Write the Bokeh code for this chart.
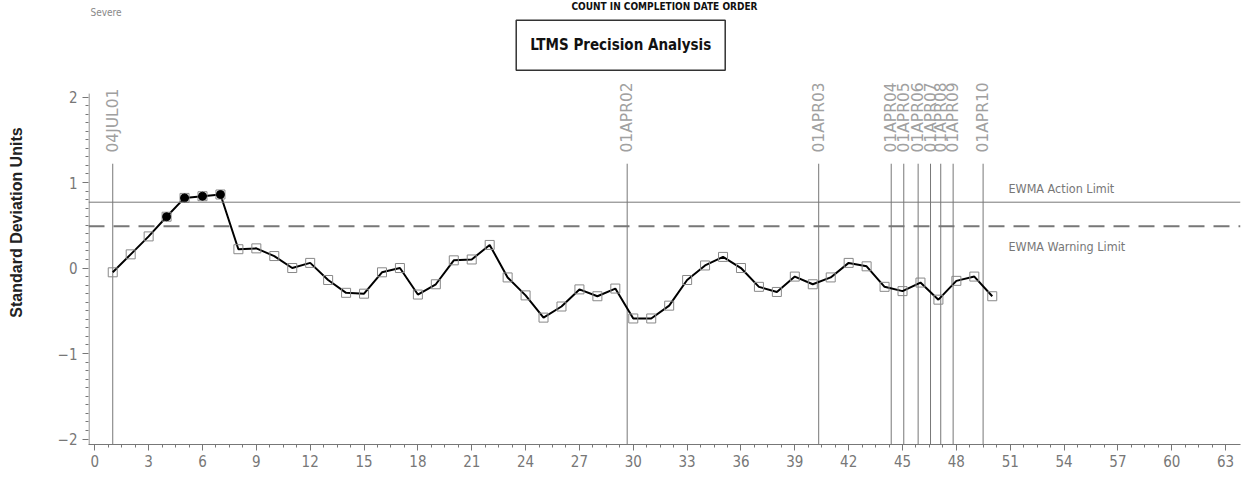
import math
from bokeh.plotting import figure
from bokeh.models import Range1d, FixedTicker, Span, Label, LabelSet, ColumnDataSource, Title
from bokeh.core.properties import value
from bokeh.embed import file_html
from bokeh.resources import INLINE

# ---------------- data ----------------
seq = list(range(1, 51))
ewma = [-0.05, 0.16, 0.37, 0.60, 0.82, 0.84, 0.86, 0.22, 0.23, 0.14,
        0.00, 0.06, -0.14, -0.29, -0.30, -0.05, 0.00, -0.31, -0.19, 0.09,
        0.10, 0.27, -0.11, -0.32, -0.58, -0.45, -0.25, -0.33, -0.24, -0.59,
        -0.59, -0.44, -0.14, 0.03, 0.13, 0.00, -0.22, -0.28, -0.10, -0.19,
        -0.11, 0.06, 0.02, -0.22, -0.27, -0.17, -0.37, -0.15, -0.10, -0.33]
action_limit = 0.77
warning_limit = 0.49
event_x = [1.0, 29.66, 40.33, 44.37, 45.07, 45.87, 46.56, 47.13, 47.82, 49.49]
event_labels = ["04JUL01", "01APR02", "01APR03", "01APR04", "01APR05",
                "01APR06", "01APR07", "01APR08", "01APR09", "01APR10"]
x_ticks = list(range(0, 64, 3))
y_ticks = [-2, -1, 0, 1, 2]

# ---------------- styling constants ----------------
GREY = "#777777"
COND = "DejaVu Sans Condensed"
X_LO, X_HI = -0.351, 63.83
Y_LO, Y_HI = -2.064, 3.129
Y_AXIS_TOP = 2.04

p = figure(width=1250, height=487, output_backend="svg", toolbar_location=None,
           x_range=Range1d(X_LO, X_HI), y_range=Range1d(Y_LO, Y_HI),
           min_border_left=88, min_border_right=10, min_border_top=0, min_border_bottom=43)
p.background_fill_color = "white"
p.border_fill_color = "white"
p.outline_line_color = None
p.xgrid.visible = False
p.ygrid.visible = False

# axes
x_minor = [t + k * 0.75 for t in x_ticks[:-1] for k in (1, 2, 3)]
y_minor = [round(a + k * 0.1, 2) for a in y_ticks[:-1] for k in range(1, 10)]
p.xaxis.ticker = FixedTicker(ticks=x_ticks, minor_ticks=x_minor)
p.yaxis.ticker = FixedTicker(ticks=y_ticks, minor_ticks=y_minor)
for ax in (p.xaxis, p.yaxis):
    ax.axis_line_color = GREY
    ax.major_tick_line_color = GREY
    ax.minor_tick_line_color = GREY
    ax.major_tick_in = 0
    ax.major_tick_out = 6
    ax.minor_tick_in = 0
    ax.minor_tick_out = 3
    ax.major_label_text_color = GREY
    ax.major_label_text_font = COND
    ax.major_label_text_font_size = "15px"
p.xaxis.major_label_standoff = 4
p.yaxis.major_label_standoff = 5
p.yaxis.axis_line_color = None
# visible part of the y axis line (from -2 region up to just above 2)
p.segment(x0=[X_LO + 0.03], y0=[Y_LO], x1=[X_LO + 0.03], y1=[Y_AXIS_TOP],
          line_color=GREY, line_width=1)

p.add_layout(Title(text="Standard Deviation Units", align="center", offset=-43,
                   vertical_align="bottom", standoff=0,
                   padding=dict(left=0, right=0, top=0, bottom=30),
                   text_font="Liberation Sans", text_font_style="bold",
                   text_font_size="16px", text_color="#222222"), "left")

# limit lines
p.add_layout(Span(location=action_limit, dimension="width", line_color=GREY, line_width=1))
p.add_layout(Span(location=warning_limit, dimension="width", line_color=GREY, line_width=2,
                  line_dash="16 9"))

# event (reference) vertical lines + labels
ev_src = ColumnDataSource(dict(x=event_x, lab=event_labels,
                               y0=[Y_LO] * len(event_x), y1=[1.22] * len(event_x)))
p.segment(x0="x", y0="y0", x1="x", y1="y1", source=ev_src, line_color=GREY, line_width=1)
p.add_layout(LabelSet(x="x", y=1.351, text="lab", source=ev_src, angle=math.pi / 2,
                      text_align="left", text_baseline="middle", text_color="#a0a0a0",
                      text_font=value("DejaVu Sans"), text_font_size="15.5px"))

# data line and markers
src = ColumnDataSource(dict(x=seq, y=ewma))
p.line("x", "y", source=src, line_color="black", line_width=2)
p.scatter("x", "y", source=src, marker="square", size=9, fill_color=None,
          line_color="#888888", line_width=1)
hx = [x for x, v in zip(seq, ewma) if v > warning_limit]
hy = [v for v in ewma if v > warning_limit]
p.scatter(hx, hy, marker="circle", size=8, fill_color="black", line_color="black")

# limit labels
p.add_layout(Label(x=50.9, y=0.93, text="EWMA Action Limit", text_align="left",
                   text_baseline="middle", text_color=GREY, text_font=COND,
                   text_font_size="12.5px"))
p.add_layout(Label(x=50.9, y=0.25, text="EWMA Warning Limit", text_align="left",
                   text_baseline="middle", text_color=GREY, text_font=COND,
                   text_font_size="12.5px"))

# header texts
p.add_layout(Label(x=29.3, y=2.606, text="LTMS Precision Analysis", text_align="center",
                   text_baseline="middle", text_color="#111111",
                   text_font=COND, text_font_style="bold", text_font_size="15px",
                   border_line_color="#333333", border_line_width=1.5,
                   background_fill_color="white",
                   padding=dict(left=14, right=14, top=16, bottom=16)))
p.add_layout(Label(x=-0.24, y=2.99, text="Severe", text_align="left",
                   text_baseline="middle", text_color="#888888", text_font=COND,
                   text_font_size="10px"))
p.add_layout(Label(x=31.74, y=3.118, text="COUNT IN COMPLETION DATE ORDER", text_align="center",
                   text_baseline="top", text_color="#111111", text_font=COND,
                   text_font_style="bold", text_font_size="10px"))

open("out.html", "w").write(file_html(p, INLINE))
